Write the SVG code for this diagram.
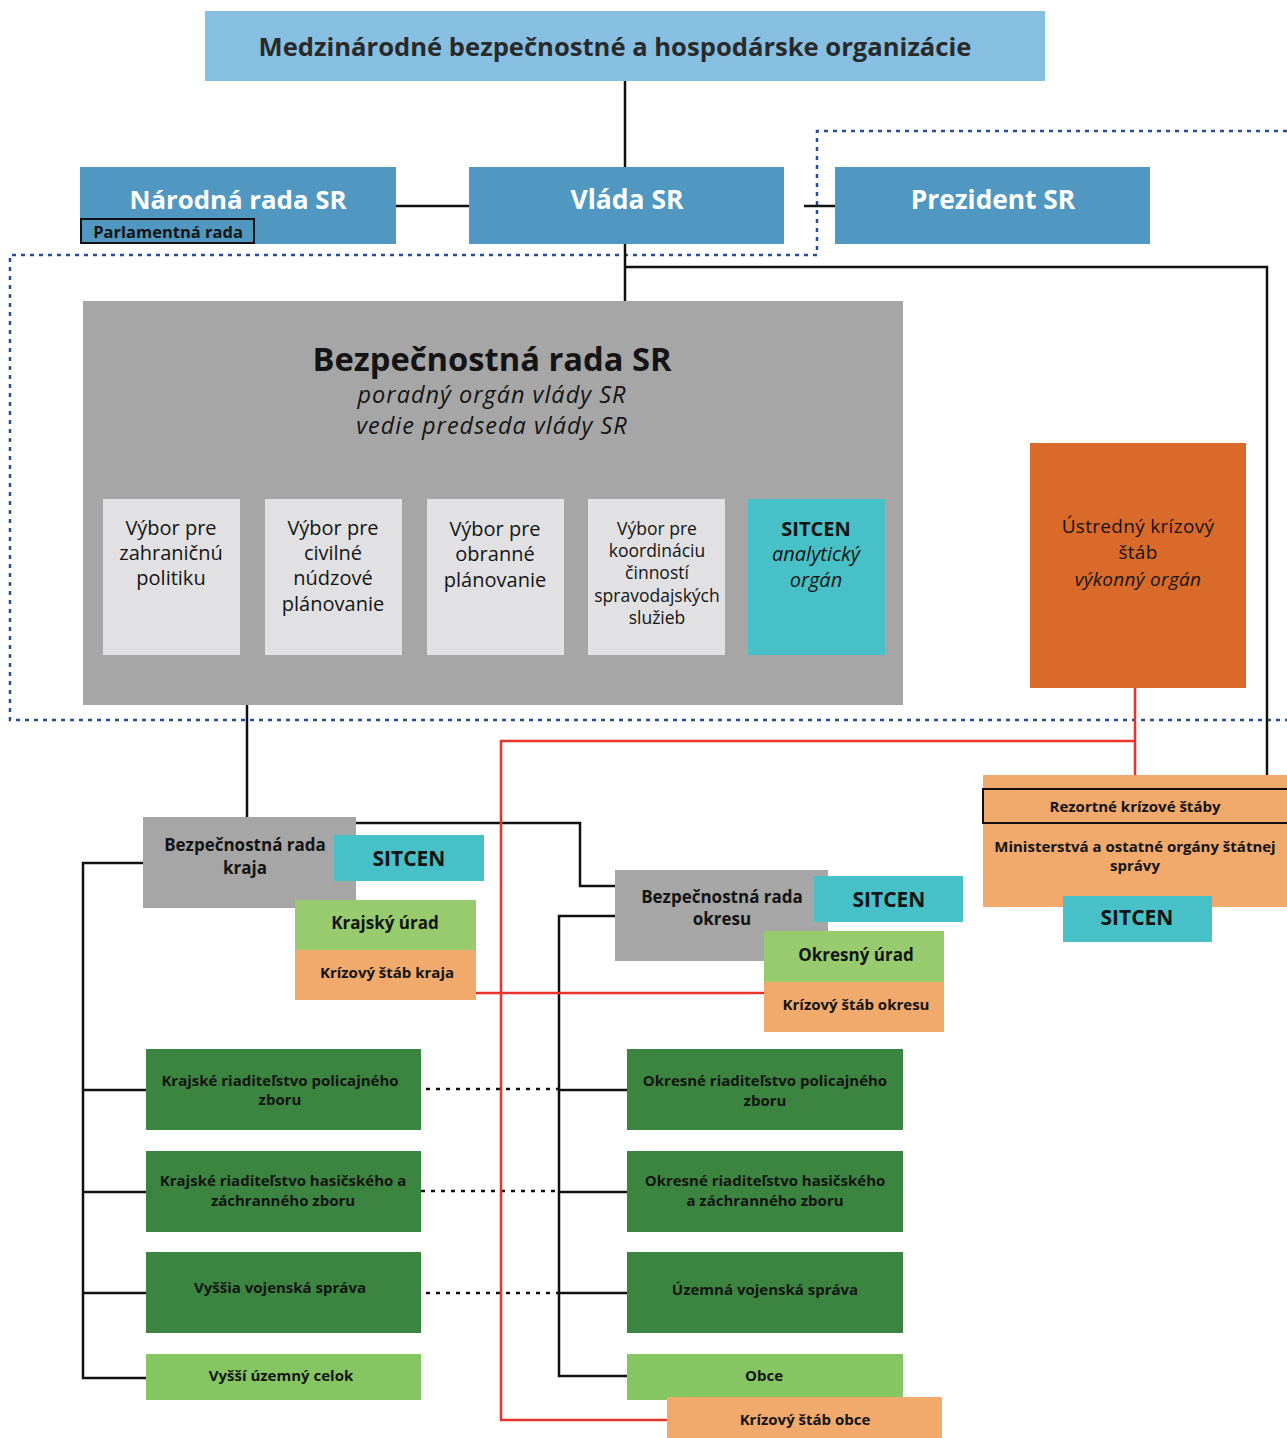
<svg xmlns="http://www.w3.org/2000/svg" width="1287" height="1438" viewBox="0 0 1287 1438">
<style>
text{font-family:"Open Sans","Liberation Sans",sans-serif;text-anchor:middle;fill:#141414}
.b{font-weight:bold}
.i{font-style:italic}
.w{fill:#ffffff}
.blue{fill:#5098c2}
.gray{fill:#a6a6a6}
.lg{fill:#e1e1e3}
.teal{fill:#47c1c7}
.dg{fill:#3b8540}
.lgr{fill:#97cb6e}
.lgr2{fill:#86c662}
.or{fill:#f1a96c}
.ln{fill:none;stroke:#111;stroke-width:2.5}
.red{fill:none;stroke:#e8322b;stroke-width:2.5}
.dot{fill:none;stroke:#111;stroke-width:2.5;stroke-dasharray:4 6}
.bd{fill:none;stroke:#2a4a9a;stroke-width:2.5;stroke-dasharray:4 5}
</style>
<rect width="1287" height="1438" fill="#ffffff"/>
<g id="connectors">
<path class="bd" d="M1287 131H817V255H10V720H1287"/>
<path class="ln" d="M625 81V167"/>
<path class="ln" d="M396 206H469"/>
<path class="ln" d="M804 206H835"/>
<path class="ln" d="M625 244V301"/>
<path class="ln" d="M625 267H1267V775"/>
<path class="ln" d="M247 705V817"/>
<path class="ln" d="M356 823H580V886H615"/>
<path class="ln" d="M143 863H83V1378H146M83 1090H146M83 1192H146M83 1293H146"/>
<path class="ln" d="M615 916H559V1376H627M559 1090H627M559 1192H627M559 1293H627"/>
<path class="dot" d="M426 1089H559M421 1191H559M426 1293H559"/>
<path class="red" d="M1135 688V775M1135 741H501V1420H667"/>
<path class="red" d="M476 993H764"/>
</g>
<g id="n-medz"><rect x="205" y="11" width="840" height="70" fill="#87bfe3"/><text x="615" y="56" class="b" font-size="25.6" style="fill:#2a2a2a">Medzinárodné bezpečnostné a hospodárske organizácie</text></g>
<g id="n-nrsr"><rect x="80" y="167" width="316" height="77" class="blue"/><text x="238" y="209" class="b w" font-size="25.8">Národná rada SR</text></g>
<g id="n-parl"><rect x="81" y="219" width="173" height="24" fill="#5098c2" stroke="#111" stroke-width="2"/><text x="168" y="237.5" class="b" font-size="16.5">Parlamentná rada</text></g>
<g id="n-vlada"><rect x="469" y="167" width="315" height="77" class="blue"/><text x="627" y="209" class="b w" font-size="26.5">Vláda SR</text></g>
<g id="n-prez"><rect x="835" y="167" width="315" height="77" class="blue"/><text x="993" y="209" class="b w" font-size="26.3">Prezident SR</text></g>
<g id="n-brsr"><rect x="83" y="301" width="820" height="404" class="gray"/>
<text><tspan x="492" y="371" class="b" font-size="32.7">Bezpečnostná rada SR</tspan><tspan x="492" y="403" class="i" font-size="23.5" letter-spacing="1">poradný orgán vlády SR</tspan><tspan x="492" y="434" class="i" font-size="23.5" letter-spacing="1">vedie predseda vlády SR</tspan></text></g>
<g id="n-v1"><rect x="103" y="499" width="137" height="156" class="lg"/><text font-size="20"><tspan x="171" y="535">Výbor pre</tspan><tspan x="171" y="560">zahraničnú</tspan><tspan x="171" y="585">politiku</tspan></text></g>
<g id="n-v2"><rect x="265" y="499" width="137" height="156" class="lg"/><text font-size="20"><tspan x="333" y="535">Výbor pre</tspan><tspan x="333" y="560">civilné</tspan><tspan x="333" y="585">núdzové</tspan><tspan x="333" y="611">plánovanie</tspan></text></g>
<g id="n-v3"><rect x="427" y="499" width="137" height="156" class="lg"/><text font-size="20"><tspan x="495" y="536">Výbor pre</tspan><tspan x="495" y="561">obranné</tspan><tspan x="495" y="587">plánovanie</tspan></text></g>
<g id="n-v4"><rect x="588" y="499" width="137" height="156" class="lg"/><text font-size="17.5"><tspan x="657" y="535">Výbor pre</tspan><tspan x="657" y="557">koordináciu</tspan><tspan x="657" y="579">činností</tspan><tspan x="657" y="602">spravodajských</tspan><tspan x="657" y="624">služieb</tspan></text></g>
<g id="n-sitcen1"><rect x="748" y="499" width="137" height="156" class="teal"/><text font-size="20"><tspan x="816" y="536" class="b">SITCEN</tspan><tspan x="816" y="561" class="i">analytický</tspan><tspan x="816" y="587" class="i">orgán</tspan></text></g>
<g id="n-uks"><rect x="1030" y="443" width="216" height="245" fill="#da6a29"/><text font-size="19" letter-spacing="0.3"><tspan x="1138" y="533">Ústredný krízový</tspan><tspan x="1138" y="559">štáb</tspan><tspan x="1138" y="586" class="i">výkonný orgán</tspan></text></g>
<g id="n-rez"><rect x="983" y="775" width="304" height="132" class="or"/><rect x="983" y="789" width="310" height="34" fill="none" stroke="#111" stroke-width="2"/><text x="1135" y="812" class="b" font-size="15">Rezortné krízové štáby</text><text class="b" font-size="15"><tspan x="1135" y="852">Ministerstvá a ostatné orgány štátnej</tspan><tspan x="1135" y="871">správy</tspan></text></g>
<g id="n-sitcen-rez"><rect x="1063" y="896" width="149" height="46" class="teal"/><text x="1137" y="925" class="b" font-size="21">SITCEN</text></g>
<g id="n-brk"><rect x="143" y="817" width="213" height="91" class="gray"/><text class="b" font-size="17"><tspan x="245" y="851">Bezpečnostná rada</tspan><tspan x="245" y="874">kraja</tspan></text></g>
<g id="n-sitcen-k"><rect x="334" y="835" width="150" height="46" class="teal"/><text x="409" y="866" class="b" font-size="21">SITCEN</text></g>
<g id="n-kurad"><rect x="295" y="900" width="181" height="50" class="lgr"/><text x="385" y="929" class="b" font-size="17">Krajský úrad</text></g>
<g id="n-ksk"><rect x="295" y="950" width="181" height="50" class="or"/><text x="387" y="978" class="b" font-size="15">Krízový štáb kraja</text></g>
<g id="n-bro"><rect x="615" y="870" width="213" height="91" class="gray"/><text class="b" font-size="17"><tspan x="722" y="903">Bezpečnostná rada</tspan><tspan x="722" y="925">okresu</tspan></text></g>
<g id="n-sitcen-o"><rect x="814" y="876" width="149" height="46" class="teal"/><text x="889" y="907" class="b" font-size="21">SITCEN</text></g>
<g id="n-ourad"><rect x="764" y="931" width="180" height="51" class="lgr"/><text x="856" y="961" class="b" font-size="17">Okresný úrad</text></g>
<g id="n-kso"><rect x="764" y="982" width="180" height="50" class="or"/><text x="856" y="1010" class="b" font-size="15">Krízový štáb okresu</text></g>
<g id="n-krpz"><rect x="146" y="1049" width="275" height="81" class="dg"/><text class="b" font-size="15"><tspan x="280" y="1086">Krajské riaditeľstvo policajného</tspan><tspan x="280" y="1105">zboru</tspan></text></g>
<g id="n-krhz"><rect x="146" y="1151" width="275" height="81" class="dg"/><text class="b" font-size="15"><tspan x="283" y="1186">Krajské riaditeľstvo hasičského a</tspan><tspan x="283" y="1206">záchranného zboru</tspan></text></g>
<g id="n-vvs"><rect x="146" y="1252" width="275" height="81" class="dg"/><text x="280" y="1293" class="b" font-size="15">Vyššia vojenská správa</text></g>
<g id="n-vuc"><rect x="146" y="1354" width="275" height="46" class="lgr2"/><text x="281" y="1381" class="b" font-size="15">Vyšší územný celok</text></g>
<g id="n-orpz"><rect x="627" y="1049" width="276" height="81" class="dg"/><text class="b" font-size="15"><tspan x="765" y="1086">Okresné riaditeľstvo policajného</tspan><tspan x="765" y="1106">zboru</tspan></text></g>
<g id="n-orhz"><rect x="627" y="1151" width="276" height="81" class="dg"/><text class="b" font-size="15"><tspan x="765" y="1186">Okresné riaditeľstvo hasičského</tspan><tspan x="765" y="1206">a záchranného zboru</tspan></text></g>
<g id="n-uvs"><rect x="627" y="1252" width="276" height="81" class="dg"/><text x="765" y="1295" class="b" font-size="15">Územná vojenská správa</text></g>
<g id="n-obce"><rect x="627" y="1354" width="276" height="46" class="lgr2"/><text x="764" y="1381" class="b" font-size="15">Obce</text></g>
<g id="n-kso2"><rect x="667" y="1397" width="275" height="41" class="or"/><text x="805" y="1425" class="b" font-size="15">Krízový štáb obce</text></g>
</svg>
